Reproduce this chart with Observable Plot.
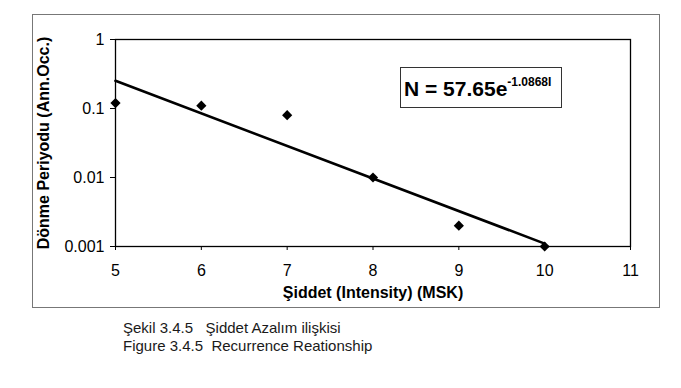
<!DOCTYPE html>
<html><head><meta charset="utf-8">
<script src="https://cdn.jsdelivr.net/npm/d3@7"></script>
<script src="https://cdn.jsdelivr.net/npm/@observablehq/plot@0.6"></script>
<style>
body{margin:0;background:#fff;font-family:"Liberation Sans",Arial,sans-serif;}
#wrap{position:relative;width:681px;height:388px;overflow:hidden;}
#chart{position:absolute;left:0;top:0;}
#caption{position:absolute;left:123px;top:319px;font-size:15px;line-height:18px;color:#1a1a1a;white-space:pre;}
</style></head><body>
<div id="wrap"><div id="chart"></div><div id="caption"></div></div>
<script>
// Data
const intensity = [5, 6, 7, 8, 9, 10];
const occurrence = [0.12, 0.11, 0.08, 0.01, 0.002, 0.001];
const trendIntensity = [5, 10];
const trendOccurrence = [0.252, 0.0011];
const xTicks = [5, 6, 7, 8, 9, 10, 11];
const yTicks = [0.001, 0.01, 0.1, 1];
const yTickLabels = ["0.001", "0.01", "0.1", "1"];
const xTitle = "Şiddet (Intensity) (MSK)";
const yTitle = "Dönme Periyodu (Ann.Occ.)";
const equationMain = "N = 57.65e";
const equationExp = "-1.0868I";
const captionLines = ["Şekil 3.4.5   Şiddet Azalım ilişkisi", "Figure 3.4.5  Recurrence Reationship"];

const points = intensity.map((x, i) => ({x, y: occurrence[i]}));
const trend = trendIntensity.map((x, i) => ({x, y: trendOccurrence[i]}));

const chart = Plot.plot({
  width: 681, height: 310,
  marginLeft: 115, marginRight: 51, marginTop: 39, marginBottom: 64,
  style: {fontFamily: "'Liberation Sans', Arial, sans-serif", fontSize: "16px", color: "#000", background: "transparent"},
  x: {domain: [5, 11]},
  y: {type: "log", domain: [0.001, 1]},
  marks: [
    Plot.frame({stroke: "#000", strokeWidth: 1.3}),
    Plot.axisX({ticks: xTicks, tickSize: 4, tickPadding: 14, label: null, tickFormat: d => String(d), fontSize: 16}),
    Plot.axisY({ticks: yTicks, tickSize: 5, tickPadding: 6, label: null, tickFormat: d => yTickLabels[yTicks.indexOf(d)], fontSize: 16}),
    Plot.line(trend, {x: "x", y: "y", stroke: "#000", strokeWidth: 2.6}),
    Plot.dot(points, {x: "x", y: "y", symbol: "diamond2", fill: "#000", stroke: "none", r: 4.6}),
    Plot.text([xTitle], {text: d => d, frameAnchor: "bottom", textAnchor: "middle", dy: 51, fontWeight: "bold", fontSize: 16}),
    Plot.text([yTitle], {text: d => d, frameAnchor: "left", textAnchor: "middle", dx: -72, rotate: -90, fontWeight: "bold", fontSize: 16})
  ]
});
document.getElementById("chart").appendChild(chart);

const svg = d3.select(chart);
// outer chart-area border
svg.insert("rect", ":first-child")
  .attr("x", 32.5).attr("y", 14.5).attr("width", 627).attr("height", 293)
  .attr("fill", "none").attr("stroke", "#777").attr("stroke-width", 1);
// equation box
const g = svg.append("g");
g.append("rect").attr("x", 400.5).attr("y", 67.5).attr("width", 161).attr("height", 40)
  .attr("fill", "#fff").attr("stroke", "#333").attr("stroke-width", 1);
const t = g.append("text").attr("x", 404).attr("y", 96).attr("text-anchor", "start")
  .attr("font-family", "'Liberation Sans', Arial, sans-serif").attr("font-weight", "bold").attr("fill", "#000");
t.append("tspan").attr("font-size", 21).text(equationMain);
t.append("tspan").attr("font-size", 12).attr("dy", -10).text(equationExp);

document.getElementById("caption").innerHTML = captionLines.join("<br>");
</script>
</body></html>
